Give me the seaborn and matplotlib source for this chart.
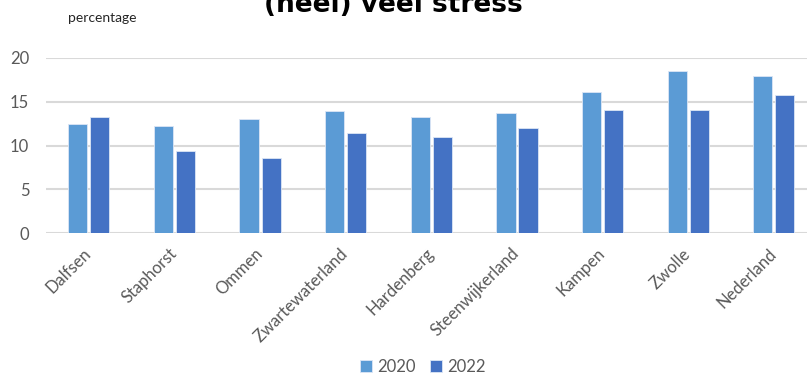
import pandas as pd
import numpy as np
import matplotlib.pyplot as plt
import seaborn as sns

# data
gemeenten = ["Dalfsen", "Staphorst", "Ommen", "Zwartewaterland", "Hardenberg",
             "Steenwijkerland", "Kampen", "Zwolle", "Nederland"]
jaren = ["2020", "2022"]
waarden_2020 = [12.5, 12.2, 13.0, 13.9, 13.2, 13.7, 16.1, 18.5, 17.9]
waarden_2022 = [13.3, 9.4, 8.6, 11.4, 11.0, 12.0, 14.1, 14.0, 15.8]
kleuren = ["#5B9BD5", "#4472C4"]

df = pd.DataFrame({
    "gemeente": gemeenten * 2,
    "jaar": [jaren[0]] * len(gemeenten) + [jaren[1]] * len(gemeenten),
    "percentage": waarden_2020 + waarden_2022,
})

sns.set_style("white")
plt.rcParams["font.family"] = ["Lato", "DejaVu Sans"]

fig = plt.figure(figsize=(8.07, 3.76), dpi=100)
ax = fig.add_axes([0.057, 0.380, 0.955, 0.466])

sns.barplot(data=df, x="gemeente", y="percentage", hue="jaar",
            palette=kleuren, saturation=1, width=0.515, gap=0.13, ax=ax,
            edgecolor="#DCE6F5", linewidth=0.6, errorbar=None, legend=True)

ax.set_ylim(0, 20)
ax.set_yticks([0, 5, 10, 15, 20])
ax.set_xlim(-0.5, len(gemeenten) - 0.5)
ax.yaxis.grid(True, color="#D9D9D9", linewidth=1.5)
ax.set_axisbelow(True)
sns.despine(ax=ax, left=True, bottom=True)
ax.set_xlabel("")
ax.set_ylabel("")
ax.tick_params(axis="y", length=0, pad=12, labelsize=12, labelcolor="#595959")
ax.tick_params(axis="x", length=0, pad=13, labelsize=12, labelcolor="#595959")
for lab in ax.get_xticklabels():
    lab.set_rotation(45)
    lab.set_ha("right")
    lab.set_va("center")
    lab.set_rotation_mode("anchor")

leg = ax.legend(loc="center", bbox_to_anchor=(0.524, 0.024), bbox_transform=fig.transFigure,
                ncol=2, frameon=False, handlelength=0.7, handleheight=0.7,
                handletextpad=0.3, columnspacing=0.9, fontsize=12)
for t in leg.get_texts():
    t.set_color("#595959")

fig.text(0.488, 0.968, "(heel) veel stress", ha="center", va="baseline",
         fontsize=19, fontweight="bold", color="black", family="DejaVu Sans")
fig.text(0.084, 0.952, "percentage", ha="left", va="center", fontsize=10, color="#262626")

fig.savefig("out.png", dpi=100)
